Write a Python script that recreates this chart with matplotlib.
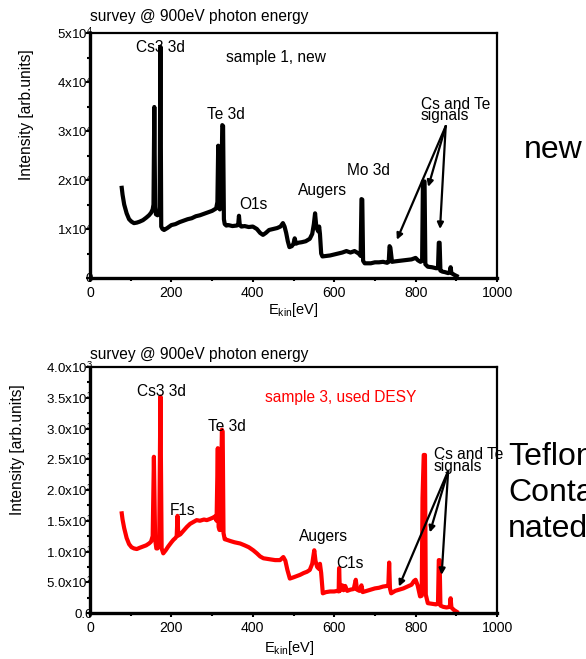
import numpy as np
import matplotlib
matplotlib.use("Agg")
import matplotlib.pyplot as plt
from matplotlib.ticker import MultipleLocator, FixedLocator, FixedFormatter

plt.rcParams['font.family'] = ['Liberation Sans', 'DejaVu Sans']
plt.rcParams['mathtext.fontset'] = 'custom'
plt.rcParams['mathtext.rm'] = 'Liberation Sans'
plt.rcParams['mathtext.it'] = 'Liberation Sans'

# ---- sample 1, new (intensity in units of 1e4) ----
e_new = [78, 80, 84, 90, 96, 102, 108, 115, 122, 130, 138, 145, 150, 154, 156, 158, 160, 162,
         166, 171, 173, 175, 178, 182, 190, 200, 210, 220, 230, 240, 250, 260, 270, 280, 290,
         300, 306, 310, 313, 315, 317, 319, 322, 325, 327, 329, 331, 335, 340, 350, 360, 364,
         366, 368, 372, 380, 390, 400, 410, 418, 425, 432, 440, 450, 460, 468, 474, 478, 482,
         486, 490, 496, 500, 503, 506, 512, 520, 530, 540, 546, 550, 553, 556, 559, 561, 563,
         565, 568, 571, 580, 590, 600, 610, 620, 630, 640, 650, 660, 665, 667, 669, 671, 675,
         690, 700, 710, 720, 730, 734, 736, 738, 742, 750, 760, 770, 780, 790, 800, 806, 812,
         816, 818, 820, 822, 824, 830, 840, 850, 855, 857, 859, 861, 866, 872, 880, 884, 886,
         888, 892, 896, 901]
i_new = [1.84, 1.70, 1.50, 1.32, 1.20, 1.15, 1.12, 1.13, 1.15, 1.18, 1.23, 1.28, 1.33, 1.40,
         1.50, 3.49, 1.45, 1.30, 1.28, 1.35, 4.72, 1.05, 1.00, 0.98, 1.02, 1.08, 1.10, 1.14,
         1.17, 1.20, 1.22, 1.26, 1.28, 1.31, 1.34, 1.37, 1.40, 1.42, 1.55, 2.70, 1.60, 1.40,
         1.45, 3.12, 3.10, 1.20, 1.10, 1.07, 1.08, 1.06, 1.07, 1.08, 1.27, 1.08, 1.05, 1.06,
         1.04, 1.05, 1.00, 0.92, 0.88, 0.92, 0.98, 1.00, 1.02, 1.05, 1.12, 1.05, 0.92, 0.75,
         0.63, 0.65, 0.70, 0.81, 0.70, 0.72, 0.73, 0.75, 0.80, 0.90, 1.10, 1.32, 1.05, 0.98,
         0.95, 1.05, 0.90, 0.50, 0.44, 0.45, 0.46, 0.48, 0.50, 0.52, 0.55, 0.52, 0.55, 0.50,
         0.45, 1.61, 1.60, 0.35, 0.30, 0.30, 0.32, 0.32, 0.33, 0.31, 0.33, 0.65, 0.62, 0.33,
         0.34, 0.35, 0.36, 0.37, 0.38, 0.41, 0.36, 0.33, 0.35, 1.97, 1.97, 1.97, 0.28, 0.23,
         0.22, 0.20, 0.20, 0.72, 0.72, 0.15, 0.13, 0.12, 0.10, 0.12, 0.22, 0.10, 0.08, 0.06,
         0.04]

# ---- sample 3, used DESY (intensity in units of 1e3) ----
e_used = [78, 80, 84, 90, 96, 102, 108, 115, 122, 130, 138, 145, 150, 154, 157, 160, 163, 166,
          170, 173, 176, 180, 186, 192, 200, 205, 210, 213, 215, 217, 222, 230, 238, 246, 254,
          262, 270, 280, 287, 295, 302, 307, 311, 314, 316, 318, 321, 324, 326, 328, 331, 336,
          345, 355, 369, 380, 390, 401, 410, 418, 426, 435, 445, 455, 467, 475, 480, 485, 491,
          500, 508, 516, 525, 533, 540, 546, 551, 554, 558, 562, 565, 568, 572, 580, 590, 600,
          608, 611, 612, 614, 620, 623, 627, 632, 640, 648, 653, 656, 662, 667, 670, 680, 690,
          700, 710, 720, 730, 733, 735, 737, 740, 750, 760, 770, 780, 790, 796, 800, 805, 811,
          815, 817, 820, 823, 825, 830, 840, 850, 855, 857, 859, 861, 868, 876, 884, 886, 888,
          894, 901]
i_used = [1.62, 1.52, 1.38, 1.22, 1.12, 1.07, 1.05, 1.04, 1.06, 1.08, 1.10, 1.13, 1.16, 1.25,
          2.54, 1.20, 1.05, 1.05, 1.15, 3.52, 1.05, 0.97, 1.02, 1.08, 1.15, 1.19, 1.22, 1.25,
          1.58, 1.26, 1.28, 1.34, 1.40, 1.45, 1.48, 1.51, 1.50, 1.52, 1.51, 1.53, 1.55, 1.57,
          1.50, 2.68, 1.40, 1.35, 1.35, 2.98, 2.95, 1.30, 1.20, 1.19, 1.17, 1.15, 1.13, 1.10,
          1.07, 1.02, 0.97, 0.92, 0.89, 0.88, 0.87, 0.86, 0.86, 0.91, 0.85, 0.70, 0.56, 0.58,
          0.60, 0.62, 0.65, 0.67, 0.70, 0.80, 1.02, 0.85, 0.75, 0.72, 0.80, 0.65, 0.32, 0.34,
          0.35, 0.35, 0.36, 0.35, 0.73, 0.36, 0.45, 0.37, 0.44, 0.36, 0.38, 0.39, 0.54, 0.38,
          0.36, 0.45, 0.34, 0.36, 0.38, 0.40, 0.41, 0.43, 0.44, 0.44, 0.82, 0.40, 0.32, 0.36,
          0.38, 0.40, 0.43, 0.46, 0.52, 0.54, 0.45, 0.27, 0.28, 1.87, 2.57, 2.57, 0.30, 0.16,
          0.15, 0.14, 0.15, 0.86, 0.86, 0.12, 0.10, 0.09, 0.10, 0.24, 0.09, 0.05, 0.02]

ytick_new = [0, 1, 2, 3, 4, 5]
ylab_new = ["0", "1x10$^4$", "2x10$^4$", "3x10$^4$", "4x10$^4$", "5x10$^4$"]
ytick_used = [0, 0.5, 1.0, 1.5, 2.0, 2.5, 3.0, 3.5, 4.0]
ylab_used = ["0.0", "5.0x10$^2$", "1.0x10$^3$", "1.5x10$^3$", "2.0x10$^3$",
             "2.5x10$^3$", "3.0x10$^3$", "3.5x10$^3$", "4.0x10$^3$"]

W, H = 586, 659
FS = 11.2
fig = plt.figure(figsize=(W / 100, H / 100), dpi=100)


def px_axes(l, t, r, b):
    return fig.add_axes([l / W, 1 - b / H, (r - l) / W, (b - t) / H])


def style(ax, yticks, ylabels, ymax, yminor):
    ax.set_xlim(0, 1000)
    ax.set_ylim(0, ymax)
    ax.xaxis.set_major_locator(MultipleLocator(200))
    ax.xaxis.set_minor_locator(MultipleLocator(100))
    ax.yaxis.set_major_locator(FixedLocator(yticks))
    ax.yaxis.set_major_formatter(FixedFormatter(ylabels))
    ax.yaxis.set_minor_locator(MultipleLocator(yminor))
    for s in ['left', 'bottom']:
        ax.spines[s].set_linewidth(2.4)
    for s in ['top', 'right']:
        ax.spines[s].set_linewidth(1.6)
    ax.tick_params(which='major', direction='out', length=3, width=1.5, labelsize=10.2, pad=3)
    ax.tick_params(which='minor', direction='out', length=2, width=1.5)
    ax.tick_params(axis='y', which='major', pad=-5, labelsize=9.6)


ann = dict(fontsize=FS, va='center', ha='left')
arrow = dict(arrowstyle='-|>', lw=1.6, color='black', mutation_scale=9, shrinkA=0, shrinkB=0)

# ---------------- top: sample 1 ----------------
ax1 = px_axes(90, 33, 497, 278)
ax1.plot(e_new, i_new, color='black', lw=3.0, solid_joinstyle='round')
style(ax1, ytick_new, ylab_new, 5, 0.5)
ax1.text(113, 4.71, "Cs3 3d", **ann)
ax1.text(334, 4.51, "sample 1, new", **ann)
ax1.text(287, 3.33, "Te 3d", **ann)
ax1.text(366, 1.49, "O1s", **ann)
ax1.text(510, 1.78, "Augers", **ann)
ax1.text(631, 2.20, "Mo 3d", **ann)
ax1.text(813, 3.43, "Cs and Te\nsignals", fontsize=FS, va='center', ha='left', linespacing=0.72)
for end in [(754, 0.78), (831, 1.86), (860, 1.0)]:
    ax1.annotate('', xy=end, xytext=(874, 3.10), arrowprops=arrow)

fig.text(90 / W, 1 - 17 / H, "survey @ 900eV photon energy", fontsize=FS, ha='left', va='center')
fig.text(27 / W, 1 - 115 / H, "Intensity [arb.units]", fontsize=FS, rotation=90,
         ha='center', va='center')
fig.text(293 / W, 1 - 310 / H, "E$_{kin}$[eV]", fontsize=10.5, ha='center', va='center')
fig.text(524 / W, 1 - 150 / H, "new", fontsize=23, ha='left', va='center')

# ---------------- bottom: sample 3 ----------------
ax2 = px_axes(90, 367, 497, 613)
ax2.plot(e_used, i_used, color='#ff0000', lw=3.0, solid_joinstyle='round')
style(ax2, ytick_used, ylab_used, 4.0, 0.25)
ax2.text(115, 3.60, "Cs3 3d", **ann)
ax2.text(430, 3.51, "sample 3, used DESY", color='#ff0000', **ann)
ax2.text(291, 3.03, "Te 3d", **ann)
ax2.text(197, 1.67, "F1s", **ann)
ax2.text(514, 1.24, "Augers", **ann)
ax2.text(604, 0.81, "C1s", **ann)
ax2.text(845, 2.48, "Cs and Te\nsignals", fontsize=FS, va='center', ha='left', linespacing=0.72)
for end in [(759, 0.43), (835, 1.31), (864, 0.62)]:
    ax2.annotate('', xy=end, xytext=(880, 2.31), arrowprops=arrow)

fig.text(90 / W, 1 - 354 / H, "survey @ 900eV photon energy", fontsize=FS, ha='left', va='center')
fig.text(18 / W, 1 - 450 / H, "Intensity [arb.units]", fontsize=FS, rotation=90,
         ha='center', va='center')
fig.text(289 / W, 1 - 648 / H, "E$_{kin}$[eV]", fontsize=10.5, ha='center', va='center')
fig.text(508 / W, 1 - 493 / H, "Teflon\nContami-\nnated", fontsize=23, ha='left', va='center',
         linespacing=1.28)

fig.savefig("out.png", dpi=100)
